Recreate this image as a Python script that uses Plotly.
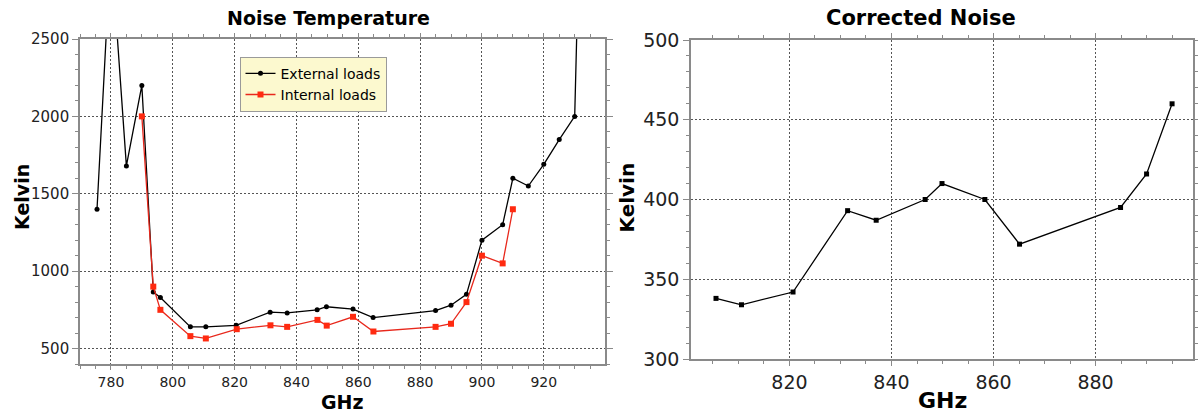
import plotly.graph_objects as go

# ---- data ----
ext_freq = [775.5, 780, 785, 790, 793.7, 796, 805.7, 810.7, 820.5, 831.5, 837, 846.7, 849.7,
            858.3, 864.8, 885, 890, 895, 900, 906.7, 910, 915, 920, 925, 930, 935]
ext_temp = [1400, 3100, 1680, 2200, 865, 830, 640, 640, 650, 735, 730, 750, 770,
            755, 700, 745, 780, 850, 1200, 1300, 1600, 1550, 1690, 1850, 2000, 6000]

int_freq = [790, 793.7, 796, 805.7, 810.7, 820.7, 831.6, 837, 846.8, 849.8, 858.3, 864.9,
            885, 890, 895, 900, 906.7, 910]
int_temp = [2000, 900, 750, 580, 565, 625, 650, 640, 685, 648, 705, 610,
            640, 660, 800, 1100, 1050, 1400]

corr_freq = [805.6, 810.6, 820.7, 831.4, 837, 846.6, 849.9, 858.3, 865.1, 884.9, 890, 895]
corr_temp = [338, 334, 342, 393, 387, 400, 410, 400, 372, 395, 416, 460]

left_xticks = [780, 800, 820, 840, 860, 880, 900, 920]
left_yticks = [500, 1000, 1500, 2000, 2500]
right_xticks = [820, 840, 860, 880]
right_yticks = [300, 350, 400, 450, 500]

W, H = 1198, 414
FONT = "DejaVu Sans"

fig = go.Figure()

fig.add_trace(go.Scatter(
    x=ext_freq, y=ext_temp, name="External loads", mode="lines+markers",
    line=dict(color="black", width=1.3),
    marker=dict(symbol="circle", size=5, color="black"),
    xaxis="x", yaxis="y"))
fig.add_trace(go.Scatter(
    x=int_freq, y=int_temp, name="Internal loads", mode="lines+markers",
    line=dict(color="#e8281c", width=1.3),
    marker=dict(symbol="square", size=6, color="#ff2a10"),
    xaxis="x", yaxis="y"))
fig.add_trace(go.Scatter(
    x=corr_freq, y=corr_temp, name="Corrected", mode="lines+markers", showlegend=False,
    line=dict(color="black", width=1.3),
    marker=dict(symbol="square", size=5, color="black"),
    xaxis="x2", yaxis="y2"))


def px_x(p):
    return p / W


def px_y(p):
    return 1 - p / H


def axis_common(fs):
    return dict(
        showline=True, linecolor="#8a8a8a", linewidth=1.6, mirror="ticks",
        ticks="outside", ticklen=6, tickwidth=1, tickcolor="#8a8a8a",
        showgrid=True, gridcolor="#555555", gridwidth=1, griddash="2px,2px",
        zeroline=False, tickmode="array", automargin=False,
        tickfont=dict(family=FONT, size=fs, color="#222222"),
        minor=dict(ticks="outside", ticklen=3, tickcolor="#8a8a8a", showgrid=False),
    )


xa = axis_common(14)
xa.update(domain=[px_x(80), px_x(605)], range=[770, 939.8], tickvals=left_xticks,
          anchor="y", ticklen=4)
xa["minor"]["dtick"] = 5
xa["minor"]["tick0"] = 770
ya = axis_common(15)
ya.update(domain=[px_y(364), px_y(39)], range=[400, 2500], tickvals=left_yticks,
          anchor="x")
ya["minor"]["dtick"] = 100
ya["minor"]["tick0"] = 400

xa2 = axis_common(19)
xa2.update(domain=[px_x(691), px_x(1193)], range=[800.7, 899.1], tickvals=right_xticks,
           anchor="y2", ticklen=5)
xa2["minor"]["dtick"] = 5
xa2["minor"]["tick0"] = 800
ya2 = axis_common(19)
ya2.update(domain=[px_y(359), px_y(40)], range=[300, 500], tickvals=right_yticks,
           anchor="x2")
ya2["minor"]["dtick"] = 10
ya2["minor"]["tick0"] = 300

annotations = [
    dict(text="Noise Temperature", x=px_x(328), y=px_y(18.5), font=dict(size=19)),
    dict(text="Corrected Noise", x=px_x(920.5), y=px_y(18.5), font=dict(size=21)),
    dict(text="GHz", x=px_x(342.5), y=0, yanchor="bottom", font=dict(size=19)),
    dict(text="GHz", x=px_x(942.5), y=0, yanchor="bottom", font=dict(size=22)),
    dict(text="Kelvin", x=px_x(21.5), y=px_y(197.5), font=dict(size=19), textangle=-90),
    dict(text="Kelvin", x=px_x(626), y=px_y(197.5), font=dict(size=20), textangle=-90),
]
for a in annotations:
    a.setdefault("yanchor", "middle")
    a.update(xref="paper", yref="paper", xanchor="center", showarrow=False, borderpad=0)
    a["font"].update(family=FONT, color="black", weight="bold")

fig.update_layout(
    width=W, height=H,
    margin=dict(l=0, r=0, t=0, b=0, pad=0, autoexpand=False),
    paper_bgcolor="white", plot_bgcolor="white",
    xaxis=xa, yaxis=ya, xaxis2=xa2, yaxis2=ya2,
    annotations=annotations,
    showlegend=True,
    legend=dict(
        x=px_x(239.5), y=px_y(56.7), xanchor="left", yanchor="top",
        xref="paper", yref="paper",
        bgcolor="#fcf9cf", bordercolor="#9a9a9a", borderwidth=1,
        font=dict(family=FONT, size=14, color="black"),
        itemwidth=30, tracegroupgap=0,
    ),
    font=dict(family=FONT),
)

fig.write_html("out.html")
